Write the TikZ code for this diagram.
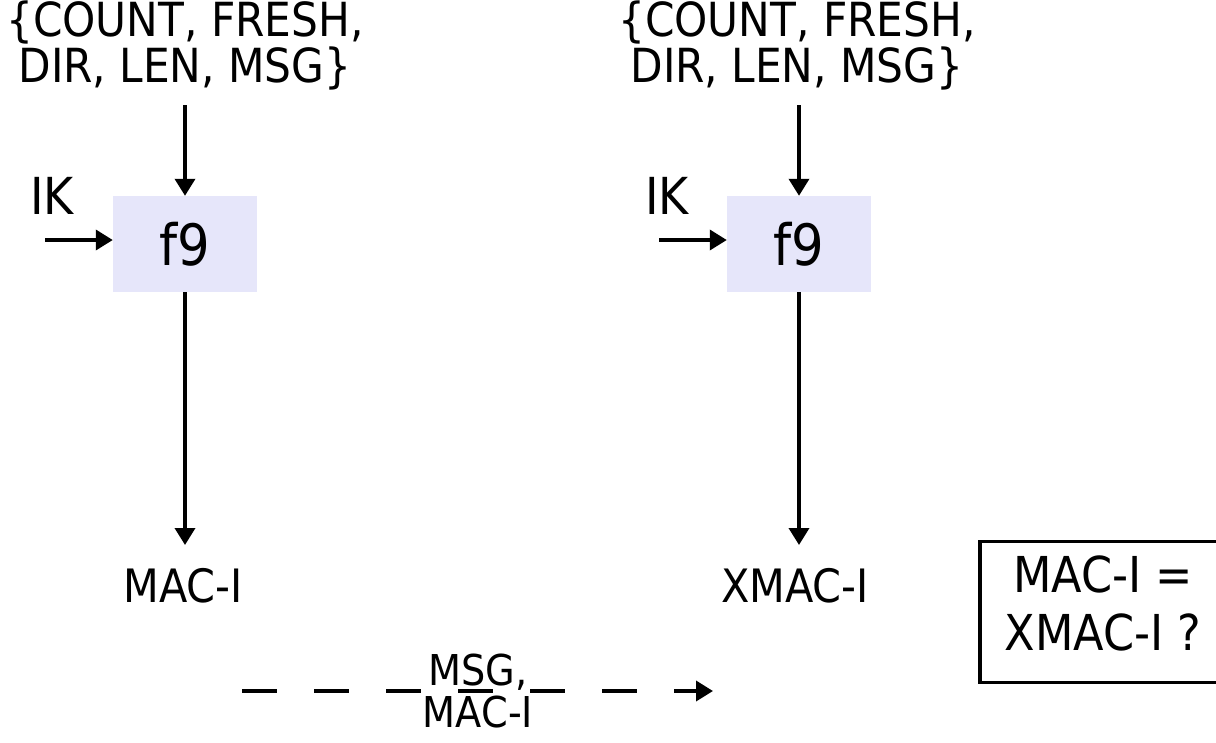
\documentclass[tikz,border=0pt]{standalone}
\usepackage{fontspec}
\setmainfont{DejaVu Sans Condensed}
\usetikzlibrary{arrows.meta}
\definecolor{boxfill}{RGB}{230,230,250}
\tikzset{
  txt/.style={inner sep=0pt, align=center, font=\fontsize{47}{46}\selectfont},
  lbl/.style={inner sep=0pt, align=center, font=\fontsize{46}{50}\selectfont},
  msglbl/.style={inner sep=0pt, anchor=base, text depth=0pt, font=\fontsize{42.5}{50}\selectfont},
  fbox/.style={fill=boxfill, minimum width=144pt, minimum height=96pt, inner sep=0pt, font=\fontsize{57}{60}\selectfont},
  arr/.style={line width=3.6pt, -{Triangle[length=17pt,width=20pt]}},
  cmpbox/.style={draw, line width=3.4pt, minimum width=246pt, minimum height=141pt, inner sep=0pt},
  cmptxt/.style={inner sep=0pt, align=center, font=\fontsize{49.5}{58}\selectfont},
}
\begin{document}
\begin{tikzpicture}[x=1pt,y=-1pt]
\useasboundingbox (0,0) rectangle (1216,742);
% left column
\node[txt] (inA) at (185,45) {\{COUNT, FRESH,\\DIR, LEN, MSG\}};
\node[fbox] (f9a) at (185,244) {f9};
\node[lbl, font=\fontsize{51}{54}\selectfont] (ikA) at (52,196) {IK};
\coordinate (ikAs) at (45,240);
\node[lbl] (macA) at (183,586) {MAC-I};
\draw[arr] (f9a.north |- 0,105) -- (f9a.north);
\draw[arr] (ikAs) -- (ikAs -| f9a.west);
\draw[arr] (f9a.south) -- (f9a.south |- 0,545);
% right column
\node[txt] (inB) at (797,45) {\{COUNT, FRESH,\\DIR, LEN, MSG\}};
\node[fbox] (f9b) at (799,244) {f9};
\node[lbl, font=\fontsize{51}{54}\selectfont] (ikB) at (667,196) {IK};
\coordinate (ikBs) at (659,240);
\node[lbl] (macB) at (795,586) {XMAC-I};
\draw[arr] (f9b.north |- 0,105) -- (f9b.north);
\draw[arr] (ikBs) -- (ikBs -| f9b.west);
\draw[arr] (f9b.south) -- (f9b.south |- 0,545);
% compare box
\node[cmpbox] (cmp) at (1103,612) {};
\node[cmptxt] (cmpt) at (1103,603) {MAC-I =\\XMAC-I ?};
% message
\coordinate (ds) at (242,691);
\coordinate (de) at (713,691);
\draw[arr, dash pattern=on 35pt off 37pt] (ds) -- (de);
\node[msglbl] (msg1) at (478,685) {MSG,};
\node[msglbl] (msg2) at (478,727) {MAC-I};
\end{tikzpicture}
\end{document}
